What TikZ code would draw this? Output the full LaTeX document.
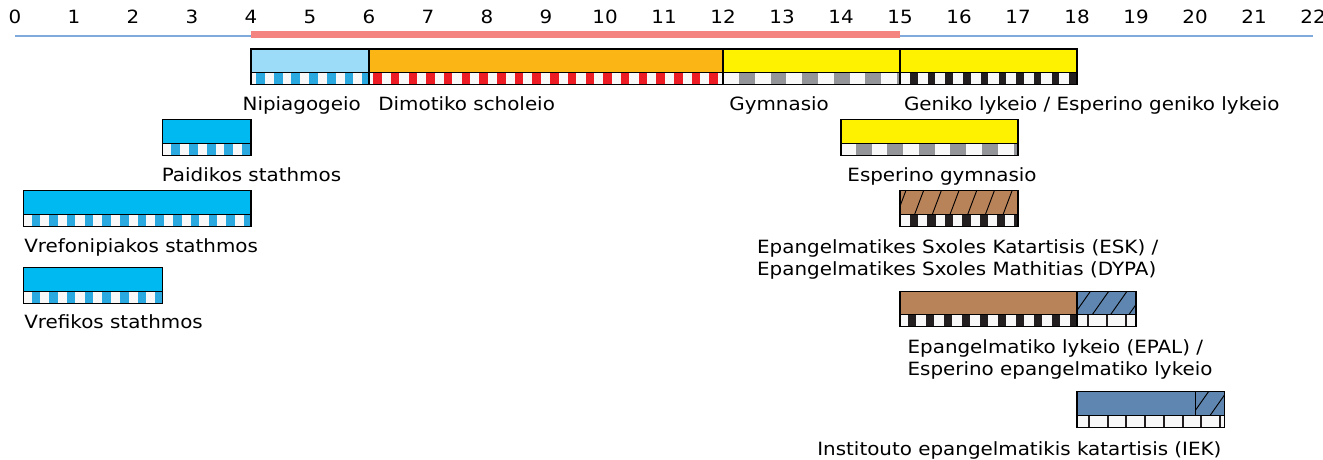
\documentclass[tikz,border=0pt]{standalone}
\usepackage{fontspec}
\setmainfont{DejaVu Sans}[FakeStretch=1.09]
\definecolor{nipia}{HTML}{9DDCF8}
\definecolor{creche}{HTML}{00B9F1}
\definecolor{dotblue}{HTML}{2AA9E0}
\definecolor{primary}{HTML}{FBB515}
\definecolor{dotred}{HTML}{ED1C24}
\definecolor{lower}{HTML}{FFF200}
\definecolor{dotgrey}{HTML}{939598}
\definecolor{dotblack}{HTML}{231F20}
\definecolor{voc}{HTML}{B9835A}
\definecolor{post}{HTML}{5F86B0}
\definecolor{paper}{HTML}{F8F8F8}
\definecolor{axisblue}{HTML}{7FAADB}
\definecolor{comp}{HTML}{F4847F}
% from, to, top, colour, period, width, offset
\newcommand\cells[7]{\begin{scope}
\clip (#1,#3) rectangle (#2,#3+12);
\fill[paper] (#1,#3) rectangle (#2,#3+12);
\foreach \k in {0,...,40} \fill[#4] (#1+#7+\k*#5,#3) rectangle ++(#6,12);
\end{scope}
\draw (#1,#3) rectangle (#2,#3+12);}
% from, to, top, spacing, slant
\newcommand\hatch[5]{\begin{scope}
\clip (#1,#3) rectangle (#2,#3+23.5);
\foreach \k in {-1,...,12} \draw[line width=0.45pt] (#1-0.05+\k*#4,#3+23.5) -- ++(#5,-23.5);
\end{scope}
\draw (#1,#3) rectangle (#2,#3+23.5);}
\tikzset{lbl/.style={anchor=base west,inner sep=0pt,font=\fontsize{8.8}{10.6}\selectfont,align=left}}
\begin{document}
\begin{tikzpicture}[x=1cm,y=-0.016949cm,line width=0.5pt]
\useasboundingbox (-0.2542,0) rectangle (22.1695,459);
\foreach \i in {0,...,22} \node[lbl,anchor=base] (t\i) at (\i,23.5) {\i};
\coordinate (a) at (0,36); \coordinate (b) at (22,36);
\coordinate (c) at (4,34.5); \coordinate (d) at (15,34.5);
\draw[axisblue,line width=1pt] (a) -- (b);
\draw[comp,line width=3.4pt] (c) -- (d);
\filldraw[fill=nipia] (4,49) rectangle (6,72.5);
\filldraw[fill=primary] (6,49) rectangle (12,72.5);
\filldraw[fill=lower] (12,49) rectangle (15,72.5);
\filldraw[fill=lower] (15,49) rectangle (18,72.5);
\cells{4}{6}{72.5}{dotblue}{0.3}{0.15}{0.085}
\cells{6}{12}{72.5}{dotred}{0.3}{0.145}{0.07}
\cells{12}{15}{72.5}{dotgrey}{0.535}{0.27}{0.27}
\cells{15}{18}{72.5}{dotblack}{0.3}{0.127}{0.17}
\node[lbl] (nip) at (3.85,110) {Nipiagogeio};
\node[lbl] (dim) at (6.15,110) {Dimotiko scholeio};
\node[lbl] (gym) at (12.1,110) {Gymnasio};
\node[lbl] (gen) at (15.06,110) {Geniko lykeio / Esperino geniko lykeio};
\filldraw[fill=creche] (2.5,119.5) rectangle (4,143);
\cells{2.5}{4}{143}{dotblue}{0.3}{0.15}{0.15}
\node[lbl] (pai) at (2.48,181) {Paidikos stathmos};
\filldraw[fill=lower] (14,119.5) rectangle (17,143);
\cells{14}{17}{143}{dotgrey}{0.535}{0.27}{0.25}
\node[lbl] (egy) at (14.1,181) {Esperino gymnasio};
\filldraw[fill=creche] (0.14,190.5) rectangle (4,214);
\cells{0.14}{4}{214}{dotblue}{0.3}{0.145}{0.14}
\node[lbl] (vrn) at (0.15,252) {Vrefonipiakos stathmos};
\fill[voc] (15,190.5) rectangle (17,214);
\hatch{15}{17}{190.5}{0.3}{0.15}
\cells{15}{17}{214}{dotblack}{0.295}{0.14}{0.17}
\node[lbl] (esk) at (12.57,275) {Epangelmatikes Sxoles Katartisis (ESK) /\\Epangelmatikes Sxoles Mathitias (DYPA)};
\filldraw[fill=creche] (0.14,267.5) rectangle (2.5,291);
\cells{0.14}{2.5}{291}{dotblue}{0.3}{0.145}{0.14}
\node[lbl] (vrf) at (0.15,328) {Vrefikos stathmos};
\filldraw[fill=voc] (15,291) rectangle (18,314.5);
\fill[post] (18,291) rectangle (19,314.5);
\hatch{18}{19}{291}{0.31}{0.28}
\cells{15}{18}{314.5}{dotblack}{0.305}{0.13}{0.14}
\cells{18}{19}{314.5}{dotblack}{0.327}{0.035}{0.164}
\node[lbl] (epa) at (15.12,375) {Epangelmatiko lykeio (EPAL) /\\Esperino epangelmatiko lykeio};
\filldraw[fill=post] (18,391.5) rectangle (20,415);
\fill[post] (20,391.5) rectangle (20.5,415);
\hatch{20}{20.5}{391.5}{0.31}{0.28}
\cells{18}{20.5}{415}{dotblack}{0.317}{0.035}{0.186}
\node[lbl] (iek) at (13.59,455) {Institouto epangelmatikis katartisis (IEK)};
\end{tikzpicture}
\end{document}
